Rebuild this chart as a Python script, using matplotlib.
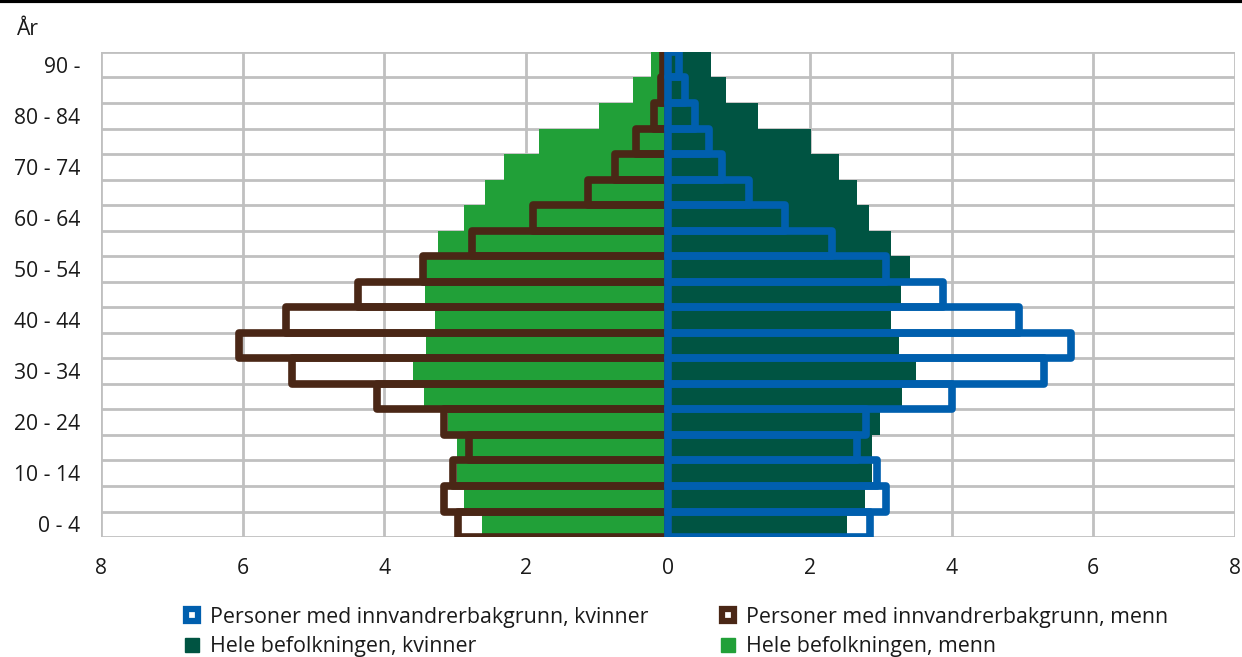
import numpy as np
import matplotlib.pyplot as plt
from matplotlib.lines import Line2D
from matplotlib.ticker import FuncFormatter

plt.rcParams['font.family'] = ['Open Sans', 'DejaVu Sans']

# age groups, youngest first
age_groups = ["0 - 4", "5 - 9", "10 - 14", "15 - 19", "20 - 24", "25 - 29",
              "30 - 34", "35 - 39", "40 - 44", "45 - 49", "50 - 54", "55 - 59",
              "60 - 64", "65 - 69", "70 - 74", "75 - 79", "80 - 84", "85 - 89",
              "90 -"]

# percent of population
all_men = [2.62, 2.88, 2.98, 2.98, 3.10, 3.44, 3.60, 3.41, 3.29, 3.43,
           3.50, 3.25, 2.88, 2.58, 2.31, 1.82, 0.98, 0.50, 0.24]
all_women = [2.53, 2.78, 2.88, 2.88, 2.99, 3.30, 3.50, 3.26, 3.14, 3.29,
             3.42, 3.14, 2.84, 2.66, 2.41, 2.02, 1.27, 0.82, 0.61]
imm_men = [2.96, 3.16, 3.03, 2.81, 3.16, 4.10, 5.30, 6.05, 5.39, 4.37,
           3.46, 2.76, 1.90, 1.13, 0.75, 0.45, 0.20, 0.10, 0.07]
imm_women = [2.85, 3.08, 2.95, 2.67, 2.80, 4.00, 5.30, 5.68, 4.95, 3.88,
             3.08, 2.32, 1.65, 1.14, 0.76, 0.58, 0.38, 0.24, 0.16]

c_men = '#21a038'
c_women = '#005442'
c_imm_men = '#4a2716'
c_imm_women = '#005fae'
c_grid = '#c0c0c0'
c_text = '#1a1a1a'
fs = 15.2

fig = plt.figure(figsize=(12.42, 6.57), dpi=100)
ax = fig.add_axes([0.0813, 0.1826, 0.9131, 0.7383])

y = np.arange(len(age_groups))

ax.barh(y, [-v for v in all_men], height=1.0, color=c_men, zorder=2)
ax.barh(y, all_women, height=1.0, color=c_women, zorder=2)

ax.barh(y, [-v for v in imm_men], height=1.0, fill=False, edgecolor=c_imm_men,
        linewidth=5.5, joinstyle='round', zorder=3)
ax.axvline(0, color='#9a9a9a', linewidth=1.5, zorder=4)
ax.barh(y, imm_women, height=1.0, fill=False, edgecolor=c_imm_women,
        linewidth=5.5, joinstyle='round', zorder=5)

ax.set_xlim(-8, 8)
ax.set_ylim(-0.5, len(age_groups) - 0.5)

ax.set_xticks(np.arange(-8, 9, 2))
ax.xaxis.set_major_formatter(FuncFormatter(lambda v, p: f'{abs(v):.0f}'))
ax.set_yticks(y[::2])
ax.set_yticklabels(age_groups[::2])
ax.set_yticks(np.arange(-0.5, len(age_groups), 1), minor=True)

ax.tick_params(axis='x', length=0, pad=15, labelsize=fs, colors=c_text)
ax.tick_params(axis='y', which='both', length=0, pad=15, labelsize=fs,
               colors=c_text)

ax.grid(True, axis='x', color=c_grid, linewidth=2, zorder=0)
ax.grid(True, axis='y', which='minor', color=c_grid, linewidth=2, zorder=0)
ax.grid(False, axis='y', which='major')
ax.set_axisbelow(True)
for s in ax.spines.values():
    s.set_visible(False)

fig.text(0.014, 0.955, 'År', fontsize=fs, color=c_text, va='center')
fig.add_artist(Line2D([0, 1], [0.998, 0.998], color='black', linewidth=3,
                      transform=fig.transFigure))

handles = [
    Line2D([], [], linestyle='none', marker='s', markersize=9,
           markerfacecolor='white', markeredgecolor=c_imm_women, markeredgewidth=4.5),
    Line2D([], [], linestyle='none', marker='s', markersize=9.5, color=c_women),
    Line2D([], [], linestyle='none', marker='s', markersize=9,
           markerfacecolor='white', markeredgecolor=c_imm_men, markeredgewidth=4.5),
    Line2D([], [], linestyle='none', marker='s', markersize=9.5, color=c_men),
]
labels = ["Personer med innvandrerbakgrunn, kvinner", "Hele befolkningen, kvinner",
          "Personer med innvandrerbakgrunn, menn", "Hele befolkningen, menn"]
fig.legend(handles, labels, ncol=2, loc='lower left', bbox_to_anchor=(0.132, -0.03),
           frameon=False, fontsize=15.4, handlelength=0.8, handletextpad=0.45,
           columnspacing=3.3, labelspacing=0.4, labelcolor=c_text)

plt.savefig('out.png', dpi=100)
